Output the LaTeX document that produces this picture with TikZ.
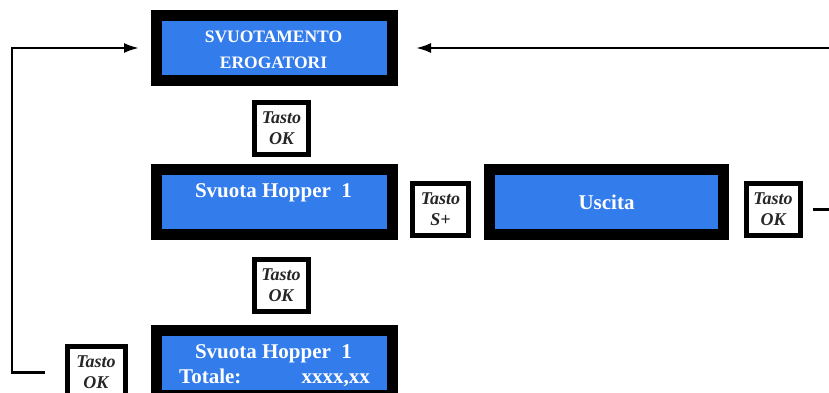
\documentclass[tikz,border=0pt]{standalone}
\usepackage{fontspec}
\setmainfont{Liberation Serif}
\usetikzlibrary{arrows.meta}
\definecolor{lcdblue}{HTML}{337CEB}
\tikzset{
  screen/.style={draw=black, fill=lcdblue, line width=11pt, outer sep=5.5pt,
    inner sep=0pt, minimum width=236pt, minimum height=65pt},
  keybox/.style={draw=black, fill=white, line width=5pt, outer sep=2.5pt,
    inner sep=0pt, minimum width=54pt, minimum height=52pt, align=center,
    font=\fontsize{18}{21}\selectfont\bfseries\itshape, text=black!85},
  lcdtext/.style={text=white, inner sep=0pt, font=\fontsize{21}{24}\selectfont\bfseries},
  lcdsmall/.style={text=white, inner sep=0pt, font=\fontsize{17.5}{26}\selectfont\bfseries},
  conn/.style={line width=2.3pt, draw=black},
  tip/.style={-{Latex[length=15pt,width=10pt]}}
}
\begin{document}
\begin{tikzpicture}[x=1pt,y=-1pt]
\useasboundingbox (0,0) rectangle (829,392);

% display screens
\node[screen] (menu) at (274.5,48) {};
\node[screen] (hop)  at (274.5,202) {};
\node[screen, minimum width=234pt] (exit) at (606.5,202) {};
\node[screen] (tot)  at (274.5,363) {};

% screen texts
\node[lcdsmall, anchor=base] (t1) at (273.5,42) {SVUOTAMENTO};
\node[lcdsmall, anchor=base] (t2) at (273.5,68) {EROGATORI};
\node[lcdtext, anchor=base] (t3) at (273.5,197) {Svuota Hopper~~1};
\node[lcdtext, anchor=base] (t4) at (606.5,209) {Uscita};
\node[lcdtext, anchor=base] (t5) at (273.5,358) {Svuota Hopper~~1};
\node[lcdtext, anchor=base west] (t6) at (179,383) {Totale:};
\node[lcdtext, anchor=base east] (t7) at (370,383) {xxxx,xx};

% key boxes
\node[keybox] (ok1) at (281.5,128.5) {Tasto\\OK};
\node[keybox] (ok2) at (281,285) {Tasto\\OK};
\node[keybox, minimum width=56pt] (splus) at (440.5,209.5) {Tasto\\S+};
\node[keybox] (okR) at (773,209.5) {Tasto\\OK};
\node[keybox, minimum width=58pt] (okBL) at (96,372.5) {Tasto\\OK};

% rails for the return paths
\coordinate (leftrail) at (12,0);
\coordinate (rightedge) at (830,0);

% return path on the left
\draw[conn, tip] ([xshift=-20pt]okBL.west) -- (okBL.west -| leftrail)
  |- ([xshift=-12pt]menu.west);

% return path on the right
\draw[conn] ([xshift=10pt]okR.east) -- (okR.east -| rightedge);
\draw[conn, tip] (rightedge |- menu.east) -- ([xshift=18pt]menu.east);
\end{tikzpicture}
\end{document}
